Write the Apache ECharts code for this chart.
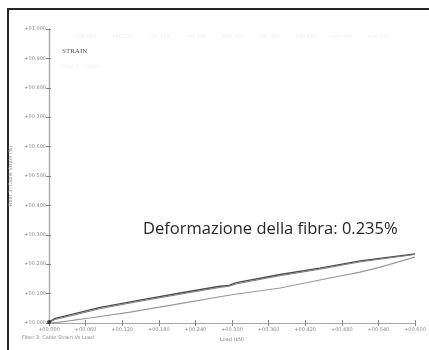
<!DOCTYPE html>
<html>
<head>
<meta charset="utf-8">
<script src="https://cdn.jsdelivr.net/npm/echarts@6/dist/echarts.min.js"></script>
<style>
  html, body { margin: 0; padding: 0; background: #fff; }
  #chart { width: 429px; height: 350px; }
</style>
</head>
<body>
<div id="chart"></div>
<script>
// Load (kN) and cable strain (%) for the loading branch
const loadUp   = [0, 0.010, 0.039, 0.084, 0.149, 0.215, 0.280, 0.295, 0.307, 0.379, 0.444, 0.510, 0.600];
const strainUp = [0.003, 0.016, 0.030, 0.053, 0.078, 0.102, 0.125, 0.128, 0.137, 0.165, 0.187, 0.211, 0.235];
// Repeat cycle of the loading branch, traced just under the first
const strainUp2 = [0.002, 0.012, 0.026, 0.049, 0.074, 0.098, 0.121, 0.125, 0.133, 0.161, 0.183, 0.208, 0.233];
// Unloading branch
const loadDown   = [0.600, 0.543, 0.510, 0.444, 0.379, 0.297, 0.215, 0.133, 0.067, 0.018, 0];
const strainDown = [0.224, 0.190, 0.173, 0.146, 0.119, 0.095, 0.066, 0.037, 0.017, 0.003, 0];
// Axis tick labels
const xTicks = ['+00.000', '+00.060', '+00.120', '+00.180', '+00.240', '+00.300', '+00.360', '+00.420', '+00.480', '+00.540', '+00.600'];
const yTicks = ['+00.000', '+00.100', '+00.200', '+00.300', '+00.400', '+00.500', '+00.600', '+00.700', '+00.800', '+00.900', '+01.000'];

const peakStrain = Math.max(...strainUp);
const pairs = (xs, ys) => xs.map((x, i) => [x, ys[i]]);

const chart = echarts.init(document.getElementById('chart'), null, { renderer: 'canvas' });

const axisGray = '#a8a8a8';
const tinyLabel = { fontSize: 5, color: '#8a8a8a', fontFamily: 'DejaVu Sans' };

chart.setOption({
  animation: false,
  backgroundColor: '#fff',
  grid: { left: 49, right: 14, top: 29, bottom: 27 },
  xAxis: [
    {
      type: 'value', min: 0, max: 0.6, interval: 0.06,
      axisLine: { lineStyle: { color: axisGray, width: 1.2 } },
      axisTick: { inside: true, length: 3, lineStyle: { color: '#888' } },
      splitLine: { show: false },
      axisLabel: Object.assign({ margin: 4, formatter: (v) => xTicks[Math.round(v / 0.06)] }, tinyLabel),
      name: 'Load (kN)', nameLocation: 'middle', nameGap: 12,
      nameTextStyle: { fontSize: 5, color: '#8a8a8a', fontFamily: 'DejaVu Sans' }
    },
    {
      type: 'value', position: 'top', min: 0, max: 0.6, interval: 0.06,
      axisLine: { show: true, lineStyle: { color: axisGray, width: 1.2 } },
      axisTick: { inside: true, length: 3, lineStyle: { color: '#888' } },
      splitLine: { show: false },
      axisLabel: { inside: true, margin: 5, fontSize: 5, color: '#ededed', fontFamily: 'DejaVu Sans',
                   formatter: (v) => (v === 0 || v === 0.6) ? '' : xTicks[Math.round(v / 0.06)] }
    }
  ],
  yAxis: [
    {
      type: 'value', min: 0, max: 1, interval: 0.1,
      axisLine: { show: true, lineStyle: { color: axisGray, width: 1.2 } },
      axisTick: { show: true, inside: true, length: 2, lineStyle: { color: '#888' } },
      splitLine: { show: false },
      axisLabel: Object.assign({ margin: 3, formatter: (v) => yTicks[Math.round(v * 10)] }, tinyLabel),
      name: 'Fiber 3: Cable Strain (%)', nameLocation: 'middle', nameGap: 29, nameRotate: 90,
      nameTextStyle: { fontSize: 5, color: '#8a8a8a', fontFamily: 'DejaVu Sans' }
    },
    {
      type: 'value', position: 'right', min: 0, max: 1, interval: 0.1,
      axisLine: { show: true, lineStyle: { color: axisGray, width: 1.2 } },
      axisTick: { show: true, inside: true, length: 3, lineStyle: { color: '#888' } },
      splitLine: { show: false },
      axisLabel: { show: false }
    }
  ],
  series: [
    {
      type: 'line', data: pairs(loadUp, strainUp), showSymbol: false,
      lineStyle: { color: '#4e4e4e', width: 1.3 }, z: 3
    },
    {
      type: 'line', data: pairs(loadUp, strainUp2), showSymbol: false,
      lineStyle: { color: '#7a7a7a', width: 1 }, z: 3
    },
    {
      type: 'line', data: pairs(loadDown, strainDown), showSymbol: false,
      lineStyle: { color: '#9a9a9a', width: 1.1 }, z: 2
    },
    {
      type: 'scatter', data: [[0, 0.003]], symbolSize: 4,
      itemStyle: { color: '#222' }, z: 4
    }
  ],
  graphic: [
    {
      type: 'polyline', silent: true,
      shape: { points: [[8, 360], [8, 9], [440, 9]] },
      style: { stroke: '#262626', lineWidth: 2, fill: null }
    },
    {
      type: 'text', left: 62, top: 48,
      style: { text: 'STRAIN', fontSize: 7, fontFamily: 'Liberation Serif', fill: '#5a5a5a' }
    },
    {
      type: 'text', left: 62, top: 64,
      style: { text: 'Fiber 3 - Cable', fontSize: 5, fontFamily: 'DejaVu Sans', fill: '#efefef' }
    },
    {
      type: 'text', left: 22, top: 335,
      style: { text: 'Fiber 3: Cable Strain Vs Load', fontSize: 5, fontFamily: 'DejaVu Sans', fill: '#8a8a8a' }
    },
    {
      type: 'text', left: 143, top: 221,
      style: {
        text: 'Deformazione della fibra: ' + peakStrain.toFixed(3) + '%',
        fontSize: 16.5, fontFamily: 'Open Sans', fill: '#262626'
      }
    }
  ]
});
</script>
</body>
</html>
